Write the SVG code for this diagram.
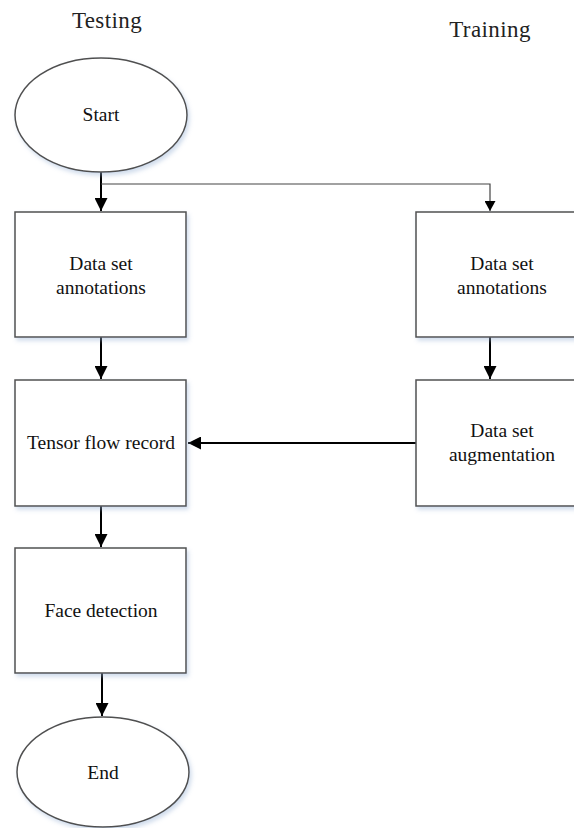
<svg xmlns="http://www.w3.org/2000/svg" width="574" height="828" viewBox="0 0 574 828">
<style>
.shape{fill:#fff;stroke:#505050;stroke-width:1.5;filter:url(#sh)}
.t{font-family:"Liberation Serif","Times New Roman",serif;font-size:19.5px;fill:#111;text-anchor:middle}
.h{font-family:"Liberation Serif","Times New Roman",serif;font-size:23px;letter-spacing:0.4px;fill:#222;text-anchor:middle}
.c{fill:none;stroke:#000;stroke-width:2}
.thin{fill:none;stroke:#444;stroke-width:1.2}
</style>
<defs>
<filter id="sh" x="-10%" y="-10%" width="125%" height="125%">
<feDropShadow dx="2" dy="3" stdDeviation="2" flood-color="#9ab4d6" flood-opacity="0.45"/>
</filter>
<marker id="a" markerWidth="13" markerHeight="13" refX="13" refY="6.5" orient="auto" markerUnits="userSpaceOnUse" viewBox="0 0 13 13">
<path d="M0,0 L13,6.5 L0,13 Z" fill="#000"/>
</marker>
<marker id="as" markerWidth="10" markerHeight="11" refX="10" refY="5.5" orient="auto" markerUnits="userSpaceOnUse" viewBox="0 0 10 11">
<path d="M0,0 L10,5.5 L0,11 Z" fill="#000"/>
</marker>
</defs>
<text class="h" x="107" y="28">Testing</text>
<text class="h" x="490" y="37">Training</text>
<g id="connectors">
<path class="c" d="M101,172 V211" marker-end="url(#a)"/>
<path class="thin" d="M101,184 H490 V211" marker-end="url(#as)"/>
<path class="c" d="M101,337 V379" marker-end="url(#a)"/>
<path class="c" d="M490,337 V379" marker-end="url(#a)"/>
<path class="c" d="M416,443 H188" marker-end="url(#a)"/>
<path class="c" d="M101,506 V547" marker-end="url(#a)"/>
<path class="c" d="M102,673 V716" marker-end="url(#a)"/>
</g>
<g id="start"><ellipse class="shape" cx="101" cy="115" rx="86" ry="57"/><text class="t" x="101" y="121">Start</text></g>
<g id="test-annot"><rect class="shape" x="15" y="212" width="171" height="125"/><text class="t" x="101" y="270">Data set</text><text class="t" x="101" y="294">annotations</text></g>
<g id="train-annot"><rect class="shape" x="416" y="212" width="170" height="125"/><text class="t" x="502" y="270">Data set</text><text class="t" x="502" y="294">annotations</text></g>
<g id="tensor"><rect class="shape" x="15" y="380" width="171" height="126"/><text class="t" x="101" y="449">Tensor flow record</text></g>
<g id="augment"><rect class="shape" x="416" y="380" width="170" height="126"/><text class="t" x="502" y="437">Data set</text><text class="t" x="502" y="461">augmentation</text></g>
<g id="face"><rect class="shape" x="15" y="548" width="171" height="125"/><text class="t" x="101" y="617">Face detection</text></g>
<g id="end"><ellipse class="shape" cx="103" cy="772" rx="86" ry="55"/><text class="t" x="103" y="779">End</text></g>
</svg>
